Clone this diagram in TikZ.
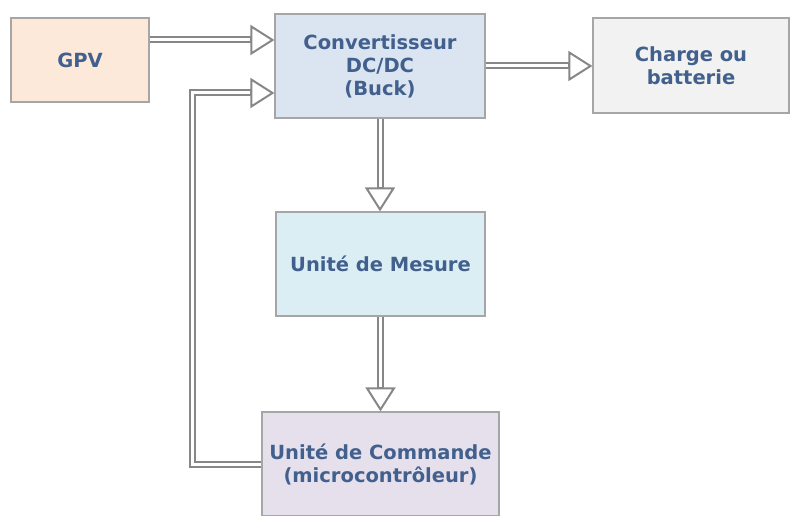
\documentclass[tikz,border=0pt]{standalone}
\usepackage{fontspec}
\setmainfont{DejaVu Sans}
\usepackage{tikz}
\usetikzlibrary{arrows.meta,positioning,calc}
\definecolor{mpptgpv}{RGB}{253,233,217}
\definecolor{mpptconv}{RGB}{219,228,241}
\definecolor{mpptload}{RGB}{242,242,242}
\definecolor{mpptmeas}{RGB}{219,238,244}
\definecolor{mpptcmd}{RGB}{229,224,236}
\definecolor{mpptedge}{RGB}{166,166,166}
\definecolor{mpptpipe}{RGB}{135,135,135}
\definecolor{mppttext}{RGB}{66,96,141}
\tikzset{
  block/.style={draw=mpptedge, line width=1.2pt, align=center, inner sep=3pt,
    font=\fontsize{19.5}{23}\selectfont\bfseries\color{mppttext}},
  pipe/.style={draw=mpptpipe, line width=7pt,
    -{Triangle[open, length=24pt, width=30pt, line width=2pt]},
    postaction={draw=white, line width=3pt, -, shorten >=24.5pt}}
}

\begin{document}
\begin{tikzpicture}[x=1pt, y=-1pt]
  \useasboundingbox (0,0) rectangle (790,516);
  \node[block, fill=mpptgpv, minimum width=138pt, minimum height=84pt] (gpv) at (80,60) {GPV};
  \node[block, fill=mpptconv, minimum width=210pt, minimum height=104pt] (conv) at (380,66) {Convertisseur\\DC/DC\\(Buck)};
  \node[block, fill=mpptload, minimum width=196pt, minimum height=95pt] (load) at (691,65.5) {Charge ou\\batterie};
  \node[block, fill=mpptmeas, minimum width=209pt, minimum height=104pt] (meas) at (380.5,264) {Unité de Mesure};
  \node[block, fill=mpptcmd, minimum width=237pt, minimum height=104pt] (cmd) at (380.5,464) {Unité de Commande\\(microcontrôleur)};
  \coordinate (fb) at (192,93);
  \draw[pipe] ([yshift=20pt]gpv.east) -- ([yshift=26pt]conv.west);
  \draw[pipe] (conv.east) -- (load.west |- conv.east);
  \draw[pipe] (conv.south) -- (conv.south |- meas.north);
  \draw[pipe] (meas.south) -- (meas.south |- cmd.north);
  \draw[pipe] (cmd.west) -| (fb) -- ([yshift=-27pt]conv.west);
\end{tikzpicture}
\end{document}
